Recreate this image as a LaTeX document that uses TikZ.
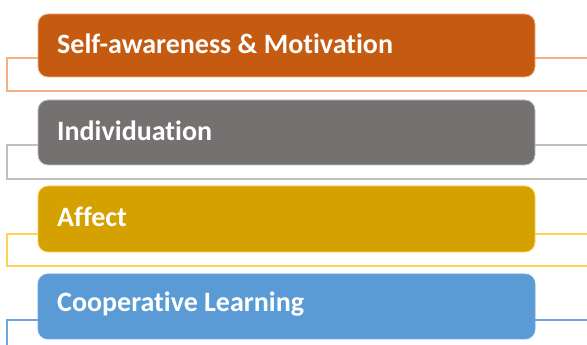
\documentclass[tikz,border=0pt]{standalone}
\usepackage{fontspec}
\setmainfont[Ligatures={NoCommon}]{Carlito}
\definecolor{c1}{HTML}{C55A11}
\definecolor{l1}{HTML}{F4B183}
\definecolor{c2}{HTML}{767171}
\definecolor{l2}{HTML}{C0C0C0}
\definecolor{c3}{HTML}{D4A100}
\definecolor{l3}{HTML}{FFD34D}
\definecolor{c4}{HTML}{5B9BD5}
\definecolor{l4}{HTML}{6FA6DC}
\tikzset{
  bar/.style={rounded corners=10pt, line width=0.8pt, inner sep=0pt},
  frame/.style={line width=1.2pt},
  lbl/.style={anchor=west, text=white, font=\fontsize{28}{32}\selectfont\bfseries, inner sep=0pt}
}
\begin{document}
\begin{tikzpicture}[x=1pt,y=1pt]
\useasboundingbox (0,0) rectangle (587,345);
\clip (0,0) rectangle (587,345);
\fill[white] (0,0) rectangle (587,345);
% frames behind boxes (y px -> 345-y)
\draw[frame, draw=l1] (7,287) rectangle (600,254);
\draw[frame, draw=l2] (7,200) rectangle (600,166);
\draw[frame, draw=l3] (7,111) rectangle (600,79);
\draw[frame, draw=l4] (7,25) rectangle (600,-10);
% boxes
\filldraw[bar, fill=c1, draw=l1] (38,331) rectangle (535,268);
\filldraw[bar, fill=c2, draw=l2] (38,245) rectangle (535,180);
\filldraw[bar, fill=c3, draw=l3] (38,159) rectangle (535,93);
\filldraw[bar, fill=c4, draw=l4] (38,71) rectangle (535,6);
\node[lbl] (t1) at (57,301.5) {Self-awareness \& Motivation};
\node[lbl] (t2) at (57,214) {Individuation};
\node[lbl] (t3) at (57,128) {Affect};
\node[lbl] (t4) at (57,40.5) {Cooperative Learning};
\end{tikzpicture}
\end{document}
